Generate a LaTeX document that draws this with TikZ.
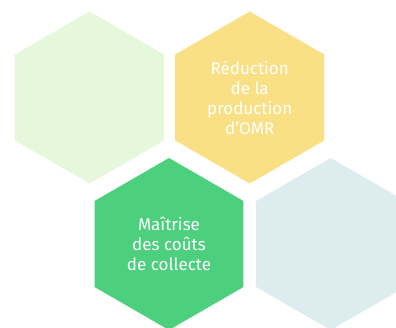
\documentclass[tikz,border=0pt]{standalone}
\usepackage{fontspec}
\setmainfont{Fira Sans}
\usetikzlibrary{shapes.geometric}
\definecolor{mint}{RGB}{229,248,220}
\definecolor{sun}{RGB}{250,224,133}
\definecolor{grass}{RGB}{76,208,125}
\definecolor{mist}{RGB}{221,236,239}
\tikzset{
  hexa/.style={regular polygon,regular polygon sides=6,shape border rotate=30,
    fill=#1,inner sep=0pt,minimum size=172pt,text=white,align=center,
    font=\fontsize{17}{20}\selectfont},
  hexa/.default=mint,
}
\begin{document}
\begin{tikzpicture}[x=1pt,y=1pt]
    \useasboundingbox (0,0) rectangle (396,327);
    \node[hexa=mint] (waste) at (89.5,229.5) {};
    \node[hexa=sun] (omr) at (249.7,229.5) {Réduction\\de la\\production\\d’OMR};
    \node[hexa=grass] (cost) at (169,83) {Maîtrise\\des coûts\\de collecte};
    \node[hexa=mist] (other) at (330.7,83) {};
\end{tikzpicture}
\end{document}
